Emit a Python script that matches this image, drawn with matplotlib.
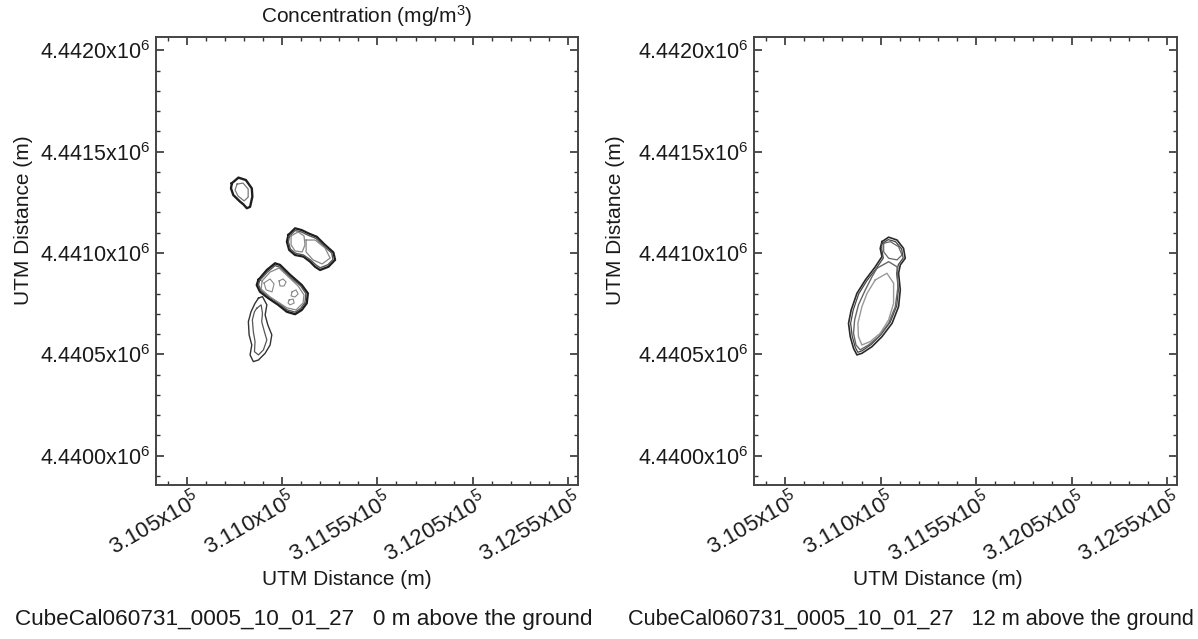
import numpy as np
import matplotlib.pyplot as plt
from matplotlib.ticker import FixedLocator, MultipleLocator
from matplotlib.transforms import ScaledTranslation

plt.rcParams['font.family'] = ['Liberation Sans', 'DejaVu Sans']
plt.rcParams['mathtext.fontset'] = 'custom'
plt.rcParams['mathtext.rm'] = 'Liberation Sans'
plt.rcParams['mathtext.it'] = 'Liberation Sans:italic'
plt.rcParams['mathtext.bf'] = 'Liberation Sans:bold'

# -----------------------------------------------------------------------------
# axes ticks and labels

x_ticks = [310550, 311050, 311550, 312050, 312550]
x_tick_labels = ['3.105x10$^5$', '3.110x10$^5$', '3.1155x10$^5$',
                 '3.1205x10$^5$', '3.1255x10$^5$']
y_ticks = [4440000, 4440500, 4441000, 4441500, 4442000]
y_tick_labels = ['4.4400x10$^6$', '4.4405x10$^6$', '4.4410x10$^6$',
                 '4.4415x10$^6$', '4.4420x10$^6$']
x_lim = (310387, 312602)
y_lim = (4439855, 4442066)

captions = ['CubeCal060731_0005_10_01_27   0 m above the ground',
            'CubeCal060731_0005_10_01_27   12 m above the ground']

# -----------------------------------------------------------------------------
# contour outlines, 0 m level (UTM easting / northing)

a_out_x = [310786, 310821, 310860, 310891, 310894, 310882, 310865, 310847, 310830, 310794, 310782]
a_out_y = [4441344, 4441372, 4441360, 4441319, 4441278, 4441228, 4441221, 4441240, 4441253, 4441286, 4441319]
a_in_x = [310814, 310845, 310872, 310872, 310851, 310819, 310803]
a_in_y = [4441340, 4441345, 4441316, 4441276, 4441257, 4441281, 4441311]

b_out_x = [311083, 311118, 311153, 311188, 311232, 311275, 311319, 311328, 311293, 311249,
           311223, 311197, 311162, 311118, 311087, 311075]
b_out_y = [4441089, 4441122, 4441113, 4441097, 4441080, 4441040, 4441003, 4440966, 4440932, 4440916,
           4440932, 4440957, 4440982, 4440990, 4441015, 4441056]
b_out2_x = [311088, 311118, 311151, 311186, 311228, 311268, 311310, 311317, 311290, 311250,
            311226, 311199, 311162, 311120, 311093, 311083]
b_out2_y = [4441082, 4441111, 4441104, 4441088, 4441072, 4441035, 4441000, 4440968, 4440942, 4440927,
            4440942, 4440966, 4440990, 4440999, 4441020, 4441055]
b_in1_x = [311097, 311134, 311165, 311170, 311155, 311118, 311097]
b_in1_y = [4441084, 4441104, 4441084, 4441040, 4441005, 4441010, 4441040]
b_in2_x = [311176, 311223, 311275, 311302, 311260, 311212, 311176]
b_in2_y = [4441064, 4441064, 4441025, 4440975, 4440946, 4440966, 4441005]

c_out_x = [310926, 310970, 311013, 311039, 311092, 311153, 311185, 311179, 311153, 311118,
           311075, 311030, 310978, 310934, 310917]
c_out_y = [4440867, 4440916, 4440949, 4440941, 4440892, 4440842, 4440801, 4440752, 4440719, 4440698,
           4440710, 4440744, 4440777, 4440809, 4440842]
c_out2_x = [310932, 310972, 311013, 311038, 311090, 311147, 311175, 311170, 311148, 311118,
            311077, 311033, 310982, 310941, 310926]
c_out2_y = [4440864, 4440905, 4440938, 4440930, 4440882, 4440838, 4440800, 4440756, 4440727, 4440708,
            4440719, 4440752, 4440784, 4440813, 4440843]
c_in_x = [310945, 310987, 311034, 311134, 311165, 311160, 311123, 311076, 310987, 310940]
c_in_y = [4440862, 4440906, 4440926, 4440837, 4440793, 4440753, 4440719, 4440729, 4440783, 4440822]
c_loop1_x = [311034, 311055, 311071, 311060, 311039]
c_loop1_y = [4440862, 4440872, 4440857, 4440837, 4440837]
c_loop2_x = [311102, 311123, 311134, 311118, 311097]
c_loop2_y = [4440808, 4440818, 4440798, 4440783, 4440788]
c_loop3_x = [311087, 311108, 311113, 311092, 311081]
c_loop3_y = [4440768, 4440773, 4440753, 4440744, 4440753]
c_loop4_x = [310955, 310987, 311008, 310997, 310966]
c_loop4_y = [4440852, 4440872, 4440847, 4440808, 4440818]

d_out_x = [310926, 310947, 310970, 310961, 310975, 310996, 310987, 310961, 310926, 310899,
           310882, 310891, 310877, 310873, 310887, 310908]
d_out_y = [4440777, 4440785, 4440744, 4440694, 4440645, 4440596, 4440546, 4440505, 4440472, 4440464,
           4440497, 4440546, 4440596, 4440661, 4440710, 4440752]
d_in_x = [310917, 310940, 310947, 310943, 310957, 310970, 310952, 310926, 310905, 310908,
          310899, 310894, 310905]
d_in_y = [4440727, 4440744, 4440703, 4440661, 4440612, 4440571, 4440522, 4440497, 4440513, 4440563,
          4440612, 4440670, 4440710]

# contour outlines, 12 m level

e_out_x = [311057, 311092, 311136, 311170, 311179, 311153, 311144, 311153, 311144, 311110,
           311057, 311005, 310952, 310926, 310908, 310891, 310882, 310896, 310926, 310970,
           311022, 311057, 311048]
e_out_y = [4441056, 4441078, 4441064, 4441023, 4440974, 4440941, 4440900, 4440818, 4440735, 4440653,
           4440587, 4440538, 4440505, 4440497, 4440530, 4440587, 4440653, 4440719, 4440801, 4440867,
           4440932, 4440982, 4441023]
e_out2_x = [311057, 311090, 311128, 311160, 311168, 311143, 311134, 311143, 311134, 311100,
            311050, 311000, 310952, 310931, 310917, 310901, 310893, 310906, 310935, 310977,
            311028, 311064, 311056]
e_out2_y = [4441046, 4441066, 4441056, 4441020, 4440975, 4440943, 4440900, 4440818, 4440738, 4440658,
            4440595, 4440548, 4440517, 4440510, 4440535, 4440590, 4440653, 4440717, 4440798, 4440862,
            4440925, 4440975, 4441020]
e_mid_x = [311031, 311092, 311136, 311141, 311127, 311092, 311039, 310987, 310943, 310921,
           310908, 310914, 310934, 310970, 311005]
e_mid_y = [4440925, 4440957, 4440932, 4440834, 4440735, 4440653, 4440587, 4440546, 4440522, 4440546,
           4440604, 4440670, 4440744, 4440818, 4440883]
e_in_x = [311022, 311083, 311118, 311118, 311092, 311048, 310996, 310952, 310934, 310931,
          310952, 310979]
e_in_y = [4440867, 4440900, 4440851, 4440752, 4440670, 4440604, 4440563, 4440546, 4440587, 4440653,
          4440735, 4440801]
e_top_x = [311066, 311101, 311144, 311162, 311136, 311092, 311066]
e_top_y = [4441048, 4441056, 4441031, 4440990, 4440966, 4440974, 4441006]

left_lines = [
    (a_out_x, a_out_y, '#1e1e1e', 1.7), (a_in_x, a_in_y, '#777777', 0.9),
    (b_out_x, b_out_y, '#1e1e1e', 1.6), (b_out2_x, b_out2_y, '#555555', 1.0),
    (b_in1_x, b_in1_y, '#888888', 0.9), (b_in2_x, b_in2_y, '#888888', 0.9),
    (c_out_x, c_out_y, '#1e1e1e', 1.7), (c_out2_x, c_out2_y, '#555555', 1.0),
    (c_in_x, c_in_y, '#888888', 0.9),
    (c_loop1_x, c_loop1_y, '#888888', 0.8), (c_loop2_x, c_loop2_y, '#888888', 0.8),
    (c_loop3_x, c_loop3_y, '#888888', 0.8), (c_loop4_x, c_loop4_y, '#888888', 0.8),
    (d_out_x, d_out_y, '#333333', 1.0), (d_in_x, d_in_y, '#555555', 0.9),
]
right_lines = [
    (e_out_x, e_out_y, '#2a2a2a', 1.2), (e_out2_x, e_out2_y, '#444444', 0.9),
    (e_mid_x, e_mid_y, '#666666', 1.0),
    (e_in_x, e_in_y, '#999999', 1.0), (e_top_x, e_top_y, '#666666', 0.9),
]

# -----------------------------------------------------------------------------

fig = plt.figure(figsize=(11.98, 6.39), dpi=100)
ax_l = fig.add_axes([155.7 / 1198, 1 - 485 / 639, 422.3 / 1198, 448 / 639])
ax_r = fig.add_axes([754 / 1198, 1 - 485 / 639, 423 / 1198, 448 / 639])

for ax, lines, xlab_x, ylab_x, cap_x, cap_size, cap in [
        (ax_l, left_lines, 0.452, -0.29, 15, 16.2, captions[0]),
        (ax_r, right_lines, 0.434, -0.305, 628, 15.6, captions[1])]:
    for xs, ys, col, lw in lines:
        ax.plot(xs + xs[:1], ys + ys[:1], color=col, lw=lw)

    ax.set_xlim(*x_lim)
    ax.set_ylim(*y_lim)
    ax.xaxis.set_major_locator(FixedLocator(x_ticks))
    ax.yaxis.set_major_locator(FixedLocator(y_ticks))
    ax.xaxis.set_minor_locator(MultipleLocator(100, offset=50))
    ax.yaxis.set_minor_locator(MultipleLocator(100))

    ax.tick_params(which='both', direction='in', top=True, right=True,
                   colors='#333333', labelcolor='#1a1a1a')
    ax.tick_params(which='major', length=6, width=1.2)
    ax.tick_params(which='minor', length=3, width=1.0)
    ax.tick_params(axis='x', pad=1, labelsize=16)
    ax.tick_params(axis='y', pad=4, labelsize=15.5)

    ax.set_xticklabels(x_tick_labels, rotation=30, ha='right', va='top')
    ax.set_yticklabels(y_tick_labels)
    for lbl in ax.get_xticklabels():
        lbl.set_transform(lbl.get_transform() + ScaledTranslation(0.18, 0, fig.dpi_scale_trans))

    for sp in ax.spines.values():
        sp.set_color('#444444')
        sp.set_linewidth(1.4)

    ax.set_xlabel('UTM Distance (m)', fontsize=15, color='#1a1a1a')
    ax.set_ylabel('UTM Distance (m)', fontsize=15, color='#1a1a1a')
    ax.xaxis.set_label_coords(xlab_x, -0.19)
    ax.yaxis.set_label_coords(ylab_x, 0.59)

    fig.text(cap_x / 1198, 1 - 620 / 639, cap, fontsize=cap_size,
             color='#1a1a1a', va='center', ha='left')

ax_l.set_title('Concentration (mg/m$^3$)', fontsize=15, color='#1a1a1a', pad=10)

fig.savefig('out.png', dpi=100, facecolor='white')
